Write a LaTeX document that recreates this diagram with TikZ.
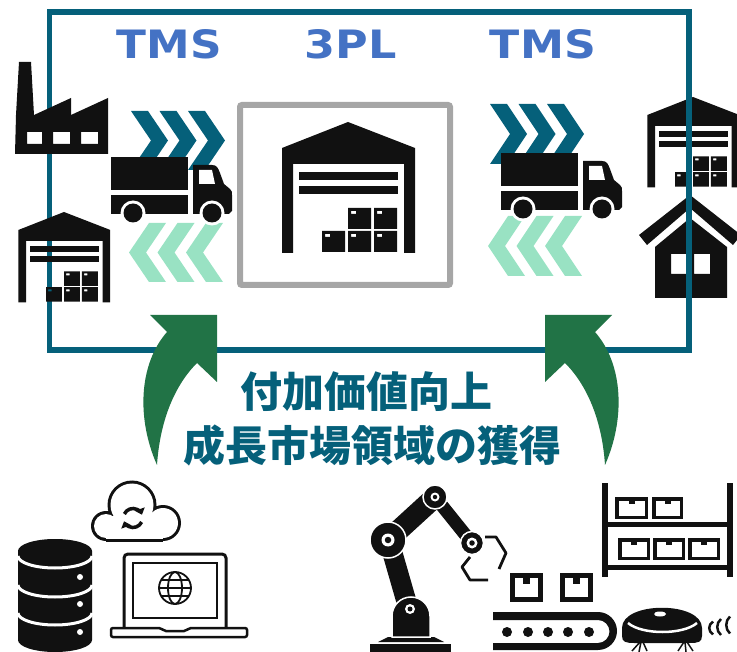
\documentclass[tikz,border=0pt]{standalone}
\usepackage{graphicx}
\usepackage{fontspec}
\setmainfont{DejaVu Sans}
\newfontfamily\cjk{Noto Sans CJK JP}
\usetikzlibrary{arrows.meta}

\definecolor{frameteal}{HTML}{05607A}
\definecolor{tmsblue}{HTML}{4472C4}
\definecolor{arrowgreen}{HTML}{217346}
\definecolor{mint}{HTML}{99E2C3}
\definecolor{boxgray}{HTML}{A6A6A6}
\definecolor{ink}{HTML}{111111}

\tikzset{
  headline/.style={text=tmsblue, inner sep=0pt, font=\bfseries},
  slogan/.style={text=frameteal, inner sep=0pt, font=\cjk\bfseries\fontsize{42}{46}\selectfont},
  flowfwd/.style={fill=frameteal},
  flowback/.style={fill=mint},
  curvearrow/.style={fill=arrowgreen},
  % warehouse with roller door and stacked parcels; origin at roof peak
  warehouse/.pic={
    \fill[ink] (-66,131) -- (-66,26) -- (0,0) -- (67,26) -- (67,131) -- (56,131)
      -- (56,42) -- (-55,42) -- (-55,131) -- cycle;
    \fill[ink] (-49,50) rectangle (50,58);
    \fill[ink] (-49,64) rectangle (50,72);
    \foreach \bx/\by in {0/86,26/86,-26/109,0/109,26/109}
      \fill[ink, even odd rule] (\bx,\by) rectangle ++(23,21)
        (\bx+3,\by+3) rectangle ++(5,3);
  },
  % delivery truck; origin at top-left of the cargo box
  truck/.pic={
    \fill[ink] (0,0) rectangle (77,33);
    \fill[ink] (0,38) rectangle (77,57);
    \fill[ink] (82,57) -- (82,8) -- (101,8) .. controls (106,8) and (107,11) .. (109,16)
      -- (113,27) -- (119,32) .. controls (121,34) and (121,35) .. (121,38)
      -- (121,54) -- (118,57) -- cycle;
    \fill[white] (88,13) -- (101,13) -- (104,27) -- (88,27) -- cycle;
    \foreach \wx in {22,101} {
      \fill[white] (\wx,56) circle (12.5);
      \fill[ink] (\wx,56) circle (9.5);
    }
  },
  parcel/.style={draw=ink, line width=3.5},
  syncarrow/.style={draw=ink, line width=3.5, -{Triangle[length=6pt,width=10pt]}},
  claw/.style={draw=ink, line width=2.8, line join=round}
}

\begin{document}
\begin{tikzpicture}[x=1pt,y=-1pt]
\useasboundingbox (0,0) rectangle (737,652);

% ---- destinations on the right (the frame runs over them) ----
\pic[scale=0.69] at (693,97) {warehouse};
\fill[ink] (639,235) -- (690,195) -- (741,235) -- (733,245) -- (690,208) -- (647,245) -- cycle;
\fill[ink, even odd rule] (655,298) -- (655,247) -- (690,218) -- (727,247) -- (727,298) -- cycle
  (671,254) rectangle (687,274) (694,254) rectangle (710,274);

% ---- frame ----
\draw[frameteal, line width=5.5] (49.5,12) rectangle (689,350);

% ---- sources on the left ----
\fill[ink, even odd rule] (15,154) -- (16,115) -- (19,62) -- (31,62) -- (34,115) -- (71,98) -- (71,115)
  -- (108,98) -- (108,154) -- cycle
  (27,132) rectangle (42,144) (53,132) rectangle (70,144) (81,132) rectangle (98,144);
\pic[scale=0.69] at (64,212) {warehouse};

% ---- headings ----
\node[headline] (tmsL) at (169.5,44) {\resizebox{105pt}{29pt}{TMS}};
\node[headline] (tpl)  at (351,44)   {\resizebox{92pt}{29pt}{3PL}};
\node[headline] (tmsR) at (543,44)   {\resizebox{106pt}{29pt}{TMS}};

% ---- flow chevrons ----
\foreach \x in {131,159.5,188}
  \fill[flowfwd] (\x,111) -- ++(17,0) -- ++(20,29.5) -- ++(-20,29.5) -- ++(-17,0) -- ++(20,-29.5) -- cycle;
\foreach \x in {223,194.5,166}
  \fill[flowback] (\x,223) -- ++(-17,0) -- ++(-20,29.5) -- ++(20,29.5) -- ++(17,0) -- ++(-20,-29.5) -- cycle;
\foreach \x in {490,518.5,547}
  \fill[flowfwd] (\x,104) -- ++(17,0) -- ++(20,30) -- ++(-20,30) -- ++(-17,0) -- ++(20,-30) -- cycle;
\foreach \x in {582,553.5,525}
  \fill[flowback] (\x,216) -- ++(-17,0) -- ++(-20,30) -- ++(20,30) -- ++(17,0) -- ++(-20,-30) -- cycle;

% ---- trucks ----
\pic at (111,157) {truck};
\pic at (501,153) {truck};

% ---- 3PL warehouse ----
\draw[boxgray, line width=6, rounded corners=2] (240,105) rectangle (450,285);
\pic at (348,122) {warehouse};

% ---- curved arrows ----
\fill[curvearrow] (157,465) .. controls (137,420) and (138,365) .. (167,332) -- (150,315) -- (217,315)
  -- (217,382) -- (197,363) .. controls (175,385) and (160,420) .. (157,465) -- cycle;
\begin{scope}[shift={(762,0)}, xscale=-1]
\fill[curvearrow] (157,465) .. controls (137,420) and (138,365) .. (167,332) -- (150,315) -- (217,315)
  -- (217,382) -- (197,363) .. controls (175,385) and (160,420) .. (157,465) -- cycle;
\end{scope}

% ---- slogan ----
\node[slogan] (line1) at (366.5,392) {付加価値向上};
\node[slogan] (line2) at (372.5,445) {成長市場領域の獲得};

% ---- database ----
\fill[ink] (18,551) arc[start angle=180, end angle=360, x radius=37, y radius=12]
  -- (92,640) arc[start angle=0, end angle=180, x radius=37, y radius=12] -- cycle;
\foreach \cy in {556,585,613}
  \draw[white, line width=3] (18,\cy) arc[start angle=180, end angle=0, x radius=37, y radius=12];
\foreach \cy in {577,604,632}
  \fill[white] (80,\cy) circle (3);

% ---- cloud with sync arrows ----
\fill[ink] (106,526) circle (15) (132,505) circle (24.5) (163,523) circle (18);
\fill[ink] (106,513) rectangle (163,542);
\fill[white] (106,526) circle (12) (132,505) circle (21.5) (163,523) circle (15);
\fill[white] (106,516) rectangle (163,539);
\draw[syncarrow] (133,518) ++(205:9.5) arc[start angle=205, end angle=340, radius=9.5];
\draw[syncarrow] (133,518) ++(25:9.5) arc[start angle=25, end angle=160, radius=9.5];

% ---- laptop ----
\draw[ink, line width=3, rounded corners=4] (124,627) -- (124,554) -- (226,554) -- (226,627);
\draw[ink, line width=2] (133,563) rectangle (217,618);
\draw[ink, line width=2.5, rounded corners=2] (111,628) -- (161,628) -- (164,631) -- (186,631) -- (189,628)
  -- (247,628) -- (247,637) -- (111,637) -- cycle;
\begin{scope}[ink, line width=1.8]
  \draw (175,588) circle (16);
  \draw (175,588) ellipse [x radius=7, y radius=16];
  \draw (159,588) -- (191,588);
  \draw (162,580) -- (188,580);
  \draw (162,596) -- (188,596);
\end{scope}

% ---- robot arm ----
\draw[ink, line width=20] (406,600) -- (389,541);
\draw[ink, line width=21] (388,540) -- (435,497);
\draw[ink, line width=13] (435,497) -- (472,543);
\fill[ink] (370,644) rectangle (451,652);
\fill[ink] (388,637) -- (434,637) -- (444,642) -- (378,642) -- cycle;
\filldraw[ink, draw=white, line width=1.5] (392,637) -- (392,616) arc[start angle=180, end angle=360, radius=19] -- (430,637) -- cycle;
\filldraw[ink, draw=white, line width=1.5] (388,540) circle (18);
\filldraw[ink, draw=white, line width=1.5] (435,497) circle (12);
\filldraw[ink, draw=white, line width=1.5] (472,543) circle (11.5);
\foreach \jx/\jy/\jr in {410/609/5, 388/540/6.5, 435/497/4.5, 472/543/5.5} {
  \fill[white] (\jx,\jy) circle (\jr);
  \fill[ink] (\jx,\jy) circle (\jr*0.5);
}
\draw[claw] (485,537) -- (496,537) -- (506,553) -- (499,569);
\draw[claw] (470,557) -- (462,567) -- (470,580) -- (488,580);

% ---- conveyor ----
\fill[ink] (493,612) -- (598,612) arc[start angle=-90, end angle=90, radius=19] -- (493,650) -- (493,643)
  -- (598,643) arc[start angle=90, end angle=-90, radius=11.5] -- (493,620) -- cycle;
\foreach \dx in {507,528,548,568,589}
  \fill[ink] (\dx,632) circle (5);
\draw[ink, line width=5] (512.5,575.5) rectangle (540.5,599.5);
\fill[ink] (523,578) rectangle (530,584);
\draw[ink, line width=5] (562.5,575.5) rectangle (590.5,599.5);
\fill[ink] (573,578) rectangle (580,584);

% ---- racking ----
\fill[ink] (602,483) rectangle (608,577);
\fill[ink] (727,483) rectangle (733,577);
\fill[ink] (602,522) rectangle (733,527);
\fill[ink] (602,565) rectangle (733,570);
\foreach \px/\py/\pw in {615/497/33, 652/497/31, 618/538/32, 653/538/32, 688/538/32} {
  \draw[parcel] (\px+1.75,\py+1.75) rectangle (\px+\pw-1.75,\py+20.25);
  \fill[ink] (\px+\pw/2-3,\py+2) rectangle (\px+\pw/2+3,\py+7);
}

% ---- robot vacuum ----
\fill[ink] (622,628) .. controls (622,601) and (702,601) .. (702,628) -- (702,636)
  .. controls (702,642) and (698,643) .. (690,643) -- (634,643) .. controls (626,643) and (622,642) .. (622,636) -- cycle;
\draw[white, line width=2.5] (628,623) .. controls (642,635) and (683,635) .. (697,623);
\fill[white] (660,614) ellipse [x radius=6, y radius=2.5];
\draw[ink, line width=1.5] (640,642) -- (632,651) (641,642) -- (639,652) (643,642) -- (647,651)
  (684,642) -- (678,651) (685,642) -- (686,652) (687,642) -- (693,651);
\foreach \wx/\wy/\wh in {710/628/6.5, 718/627/8, 727/625/8.5}
  \draw[ink, line width=2.5] (\wx+3,\wy-\wh) .. controls (\wx-2,\wy-\wh/2) and (\wx-2,\wy+\wh/2) .. (\wx+3,\wy+\wh);
\end{tikzpicture}
\end{document}
